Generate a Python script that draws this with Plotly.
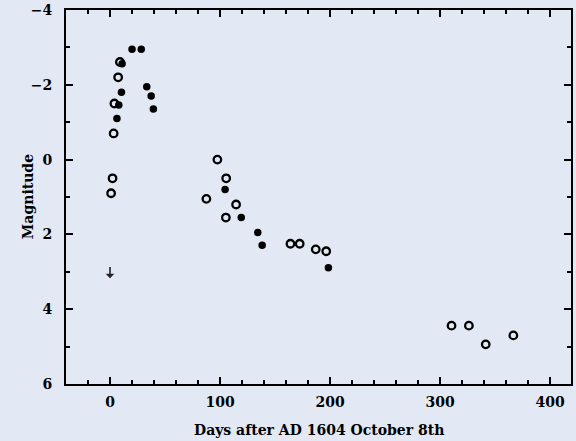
import plotly.graph_objects as go

# Open-circle observations (days, magnitude)
open_days = [1.0, 2.3, 3.3, 4.0, 7.4, 9.0, 97.6, 105.6, 87.6, 114.6, 105.3,
             164.0, 172.4, 187.0, 196.5, 310.4, 326.2, 341.5, 366.6]
open_mag = [0.9, 0.5, -0.7, -1.5, -2.2, -2.61, 0.0, 0.5, 1.05, 1.2, 1.55,
            2.25, 2.25, 2.4, 2.45, 4.44, 4.44, 4.94, 4.7]

# Filled-circle observations
filled_days = [20.0, 28.4, 11.0, 8.0, 10.4, 6.3, 33.4, 37.4, 39.4,
               104.6, 119.3, 134.3, 138.3, 198.5]
filled_mag = [-2.95, -2.95, -2.56, -1.46, -1.8, -1.1, -1.95, -1.7, -1.35,
              0.8, 1.55, 1.95, 2.29, 2.89]

# Upper limit (arrow)
limit_days = [0.0]
limit_mag = [3.17]
limit_len = 0.34

x_ticks = [0, 100, 200, 300, 400]
y_ticks = [-4, -2, 0, 2, 4, 6]

x_title = "Days after AD 1604 October 8th"
y_title = "Magnitude"

BG = "#e2e9f5"
TICKFONT = dict(family="DejaVu Serif", size=14, color="black", weight="bold")
TITLEFONT = dict(family="DejaVu Serif", size=14, color="black", weight="bold")

fig = go.Figure()
fig.add_trace(go.Scatter(
    x=open_days, y=open_mag, mode="markers",
    marker=dict(symbol="circle-open", size=7.5, color="black",
                line=dict(width=2.3, color="black")),
    showlegend=False))
fig.add_trace(go.Scatter(
    x=filled_days, y=filled_mag, mode="markers",
    marker=dict(symbol="circle", size=7.5, color="black",
                line=dict(width=0)),
    showlegend=False))

for xd, yd in zip(limit_days, limit_mag):
    fig.add_annotation(x=xd, y=yd, ax=xd, ay=yd - limit_len,
                       xref="x", yref="y", axref="x", ayref="y",
                       showarrow=True, arrowhead=1, arrowsize=0.9,
                       arrowwidth=1.6, arrowcolor="#222222", text="")

# Axis titles placed relative to the plot area
fig.add_annotation(text=x_title, xref="paper", yref="paper",
                   x=0.5, y=-0.123, xanchor="center", yanchor="middle",
                   showarrow=False, font=TITLEFONT)
fig.add_annotation(text=y_title, xref="paper", yref="paper",
                   x=-0.075, y=0.5, xanchor="center", yanchor="middle",
                   textangle=-90, showarrow=False, font=TITLEFONT)

axis_common = dict(
    showgrid=False, zeroline=False, showline=True, linecolor="black",
    linewidth=2, mirror="ticks", ticks="inside", tickcolor="black",
    tickwidth=2, ticklen=7, tickfont=TICKFONT, automargin=False,
)

fig.update_xaxes(range=[-40, 419], tickvals=x_ticks,
                 minor=dict(dtick=20, tick0=0, ticks="inside", ticklen=4,
                            tickwidth=2, tickcolor="black"),
                 ticklabelstandoff=4,
                 **axis_common)
fig.update_yaxes(range=[6, -4], tickvals=y_ticks,
                 minor=dict(dtick=1, tick0=0, ticks="inside", ticklen=4,
                            tickwidth=2, tickcolor="black"),
                 ticklabelstandoff=9,
                 **axis_common)

fig.update_layout(
    width=576, height=441,
    margin=dict(l=66, r=5, t=10, b=57),
    paper_bgcolor=BG, plot_bgcolor=BG,
    font=TICKFONT,
)

fig.write_html("out.html")
